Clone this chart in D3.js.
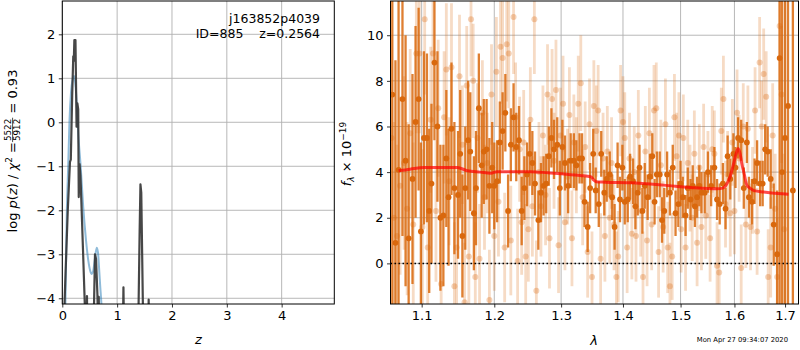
<!DOCTYPE html>
<html><head><meta charset="utf-8">
<script src="https://cdn.jsdelivr.net/npm/d3@7"></script>
<style>body{margin:0;background:#fff}svg{display:block}text{font-family:"DejaVu Sans",sans-serif}</style>
</head><body><svg id="c" width="800" height="350"></svg>
<script>
// ---------- data: left panel (redshift PDF) ----------
const blackZ = [0.00,0.03,0.06,0.10,0.14,0.155,0.18,0.20,0.21,0.22,0.24,0.25,0.26,0.275,0.29,0.30,0.315,0.33,0.345,0.38,0.42,0.435,0.45,0.465,0.55,0.596,0.615,0.64,0.65,0.665,0.68,1.09,1.115,1.14,1.37,1.41,1.425,1.44,1.47,1.48,1.56,1.575,1.59,4.96];
const blackLogp = [-8,-4.5,-3.4,-2.0,-0.9,-0.85,0.6,1.5,1.4,1.87,1.87,0.9,-0.1,0.43,0.3,-1.7,-0.95,-1.2,-1.7,-3.0,-4.5,-6,-3.95,-6,-6,-3.0,-3.1,-3.9,-4.5,-3.97,-6,-6,-3.75,-6,-6,-2.5,-1.41,-1.6,-4.2,-6,-6,-4.03,-6,-6];
const blueZ = [0.03,0.06,0.08,0.11,0.13,0.16,0.19,0.215,0.24,0.26,0.29,0.335,0.38,0.43,0.475,0.51,0.535,0.56,0.59,0.627,0.65,0.67,0.69,0.72,0.76];
const blueLogp = [-6,-3.9,-2.2,-0.9,0.0,0.7,0.98,1.05,0.85,0.5,-0.25,-1.0,-1.9,-2.65,-3.15,-3.38,-3.45,-3.4,-3.15,-2.85,-2.95,-3.3,-3.7,-4.3,-6];
const leftXTicks = [0,1,2,3,4];
const leftYTicks = [-4,-3,-2,-1,0,1,2];
const objName = "j163852p4039";
const objInfo = "ID=885    z=0.2564";
const chi2Num = "5522", chi2Den = "5912", chi2Val = "0.93";

// ---------- data: right panel (spectrum) rows [wave, flux, err] ----------
const darkRows = [
[1.062,7.4,12],[1.066,0.9,8],[1.070,4.1,10],[1.075,7.2,6],[1.079,4.5,5.5],[1.083,1.1,5],[1.088,3.7,4.6],[1.092,6.2,4.2],
[1.096,7.2,4.0],[1.099,1.4,3.9],[1.103,5.5,3.8],[1.107,5.5,3.7],[1.110,2.3,3.6],[1.113,3.5,3.5],[1.117,8.8,3.4],[1.121,6.0,3.3],
[1.125,2.0,3.2],[1.129,2.1,3.1],[1.133,4.6,3.0],[1.136,2.9,3.0],[1.140,5.9,2.9],[1.144,3.3,2.9],[1.149,3.0,2.8],[1.152,4.8,2.8],
[1.155,1.2,2.7],[1.159,3.3,2.7],[1.163,5.4,2.6],[1.166,4.9,2.6],[1.171,2.2,2.5],[1.174,3.3,2.5],[1.178,6.8,2.4],[1.182,4.3,2.3],
[1.185,4.9,2.3],[1.189,5.0,2.2],[1.193,3.4,2.1],[1.197,4.2,2.0],[1.200,3.4,1.9],[1.204,3.6,1.8],[1.208,5.3,1.8],[1.212,5.8,1.7],
[1.216,6.6,1.7],[1.220,2.3,1.6],[1.224,5.2,1.6],[1.228,6.4,1.5],[1.232,5.1,1.5],[1.236,5.4,1.5],[1.240,2.3,1.5],[1.244,3.3,1.4],
[1.248,3.9,1.4],[1.252,4.8,1.4],[1.256,4.4,1.4],[1.260,3.5,1.4],[1.265,1.9,1.3],[1.269,3.1,1.3],[1.273,3.4,1.3],[1.277,3.5,1.3],
[1.281,4.7,1.3],[1.285,5.5,1.3],[1.289,5.0,1.3],[1.294,5.2,1.2],[1.298,3.3,1.2],[1.302,5.1,1.2],[1.306,4.4,1.2],[1.311,3.4,1.2],
[1.315,4.5,1.2],[1.320,4.5,1.2],[1.324,4.3,1.1],[1.329,4.6,1.1],[1.333,4.6,1.1],[1.337,2.7,1.1],[1.342,1.6,1.1],[1.346,3.3,1.1],
[1.351,4.8,1.1],[1.355,3.2,1.0],[1.360,2.6,1.0],[1.364,4.8,1.0],[1.369,3.1,1.0],[1.373,3.7,1.0],[1.378,3.9,1.0],[1.382,2.9,1.0],
[1.386,1.6,1.0],[1.391,4.3,1.0],[1.395,2.8,1.0],[1.399,4.2,1.0],[1.403,2.7,1.0],[1.408,2.8,1.0],[1.412,3.8,1.0],[1.417,3.6,1.0],
[1.421,2.5,1.0],[1.425,3.1,1.0],[1.428,4.2,1.0],[1.433,2.3,1.0],[1.437,3.4,1.0],[1.442,2.9,1.0],[1.446,3.8,1.0],[1.450,4.7,1.0],
[1.454,2.7,1.0],[1.458,3.9,1.0],[1.463,3.9,1.0],[1.467,1.9,1.0],[1.471,2.3,1.0],[1.476,3.9,1.0],[1.481,3.1,1.0],[1.486,4.2,1.0],
[1.491,2.2,1.0],[1.496,2.6,1.0],[1.500,3.5,1.0],[1.504,2.9,0.9],[1.509,2.1,0.9],[1.513,3.3,0.9],[1.518,2.8,0.9],[1.522,3.4,0.9],
[1.526,2.5,0.9],[1.530,2.9,0.9],[1.534,3.4,0.9],[1.538,3.1,0.9],[1.544,3.1,0.9],[1.550,4.0,0.9],[1.556,3.4,0.9],[1.562,4.2,0.9],
[1.567,2.8,0.9],[1.572,2.6,0.9],[1.578,3.5,0.9],[1.583,2.4,0.9],[1.587,4.7,0.9],[1.592,3.7,0.9],[1.598,4.8,0.9],[1.602,4.2,0.9],
[1.607,5.5,0.9],[1.613,5.4,0.9],[1.618,3.3,0.9],[1.624,5.3,0.9],[1.628,2.9,0.9],[1.634,2.7,1.0],[1.639,3.6,1.0],[1.644,4.4,1.0],
[1.650,3.5,1.0],[1.655,3.5,1.0],[1.660,5.0,1.1],[1.665,4.9,1.1],[1.671,3.7,1.3],[1.677,1.7,1.8],[1.684,0.4,2.8],[1.689,9.0,12],
[1.694,4.0,12],[1.700,5.5,12],[1.706,6.9,12],[1.716,3.2,12]
];
const lightRows = [
[1.061,5.5,4.5],[1.064,2.0,4.2],[1.068,1.2,4.0],[1.072,3.4,3.9],[1.077,4.4,3.8],[1.081,2.4,3.8],[1.085,5.7,3.7],[1.089,1.7,3.6],
[1.093,9.2,3.5],[1.097,9.2,3.5],[1.101,1.6,3.4],[1.104,10.7,3.3],[1.108,0.7,3.3],[1.112,6.3,3.2],[1.115,9.2,3.2],[1.119,2.3,3.1],
[1.122,6.8,3.0],[1.126,-0.9,3.0],[1.130,6.4,2.9],[1.133,8.5,2.9],[1.137,3.6,2.8],[1.140,8.6,2.8],[1.144,-1.0,2.8],[1.147,0.7,2.7],
[1.151,8.2,2.7],[1.155,5.2,2.6],[1.158,-1.7,2.6],[1.161,7.8,2.6],[1.164,0.3,2.5],[1.167,10.7,2.5],[1.170,8.0,2.5],[1.173,-0.6,2.4],
[1.176,5.5,2.4],[1.179,0.2,2.4],[1.183,6.6,2.3],[1.186,2.9,2.3],[1.190,4.4,2.2],[1.193,-1.6,2.2],[1.196,7.4,2.2],
[1.200,1.2,2.4],[1.203,8.4,2.4],[1.206,2.7,2.4],[1.209,9.5,2.5],[1.212,9.0,2.5],[1.215,0.7,2.4],[1.218,9.6,2.5],[1.221,9.2,2.4],
[1.224,1.0,2.4],[1.228,10.8,2.5],[1.231,6.4,2.4],[1.234,0.1,2.3],[1.237,5.0,2.3],[1.240,1.8,2.3],[1.243,5.3,2.3],[1.246,0.3,2.3],
[1.250,1.5,2.3],[1.253,6.3,2.3],[1.256,2.5,2.2],[1.259,10.7,2.4],[1.262,-1.2,2.2],[1.266,4.0,2.2],[1.269,2.5,2.2],[1.272,5.6,2.2],
[1.276,3.0,2.2],[1.279,7.4,2.2],[1.282,1.1,2.2],[1.286,7.2,2.2],[1.289,4.5,2.1],[1.292,7.6,2.2],[1.296,0.8,2.1],[1.299,5.6,2.1],
[1.303,7.0,2.1],[1.306,1.8,2.1],[1.310,3.8,2.1],[1.313,6.5,2.1],[1.317,1.1,2.1],[1.320,5.3,2.1],[1.324,4.3,2.1],[1.327,7.0,2.1],
[1.331,7.9,2.1],[1.334,2.9,2.1],[1.338,5.1,2.0],[1.342,0.5,2.0],[1.345,6.1,2.0],[1.349,-0.6,2.0],
[1.352,6.9,2.0],[1.356,5.8,2.0],[1.359,6.7,2.0],[1.363,0.2,2.0],[1.367,4.6,2.0],[1.370,1.2,2.0],[1.374,4.9,2.0],[1.378,2.0,2.0],
[1.381,4.4,2.0],[1.385,1.7,2.0],[1.389,-0.6,2.0],[1.392,0.3,2.0],[1.396,6.7,2.0],[1.400,6.2,2.0],[1.403,5.5,2.0],[1.407,0.7,2.0],
[1.411,4.6,2.0],[1.415,1.3,2.0],[1.419,4.0,2.0],[1.422,1.2,2.0],[1.426,5.6,2.0],[1.430,2.3,2.0],[1.434,-0.6,2.0],[1.438,4.9,2.0],
[1.441,1.0,2.0],[1.445,5.7,2.0],[1.449,1.7,2.0],[1.453,6.7,2.0],[1.457,6.8,2.0],[1.461,0.5,2.0],[1.465,4.3,2.0],[1.469,1.6,2.0],
[1.473,6.1,2.0],[1.477,0.7,2.0],[1.481,-1.0,1.9],[1.485,0.3,1.9],[1.489,6.4,1.9],[1.493,4.7,1.9],[1.497,5.6,1.9],[1.501,1.5,1.9],
[1.505,5.5,1.9],[1.509,0.7,1.9],[1.513,4.4,1.9],[1.517,3.3,1.9],[1.521,2.0,1.9],[1.525,4.8,1.9],[1.530,0.9,1.9],
[1.534,4.2,1.9],[1.538,1.6,1.9],[1.542,5.1,1.9],[1.546,2.1,1.9],[1.550,3.9,1.9],[1.554,1.1,1.9],[1.558,5.0,1.9],[1.562,4.8,1.9],
[1.567,-0.1,1.9],[1.571,-0.4,1.9],[1.575,5.8,1.9],[1.579,7.2,1.9],[1.583,2.6,1.9],[1.587,3.9,1.9],[1.592,2.2,1.9],[1.596,5.3,1.9],
[1.600,2.3,1.9],[1.605,6.6,1.9],[1.609,4.6,1.9],[1.613,-0.2,1.9],[1.617,6.0,1.9],[1.622,1.7,1.9],[1.626,5.9,1.9],[1.631,1.6,1.9],
[1.635,3.2,1.9],[1.640,6.7,1.9],[1.644,1.4,1.9],[1.649,8.8,2.0],[1.653,6.0,2.0],[1.657,8.3,2.0],[1.662,7.3,2.0],[1.666,-0.6,2.1],
[1.671,0.7,2.2],[1.675,5.6,2.3],[1.680,2.4,2.4],[1.684,-0.6,2.6],[1.689,10.4,2.8],[1.693,7.4,3.0],[1.698,1.5,3.3]
];
const modelWave = [1.070,1.085,1.103,1.130,1.148,1.162,1.180,1.195,1.204,1.230,1.253,1.280,1.304,1.330,1.347,1.352,1.356,1.370,1.413,1.470,1.518,1.567,1.578,1.584,1.591,1.597,1.602,1.607,1.611,1.614,1.619,1.624,1.630,1.638,1.657,1.685,1.707];
const modelFlux = [4.06,4.13,4.2,4.2,4.2,4.06,4.0,3.95,4.02,4.02,4.02,3.97,3.92,3.85,3.8,3.65,3.58,3.56,3.53,3.43,3.33,3.27,3.3,3.43,3.75,4.24,4.7,5.04,4.8,4.4,3.9,3.43,3.3,3.19,3.13,3.06,3.03];
const rightXTicks = [1.1,1.2,1.3,1.4,1.5,1.6,1.7];
const rightYTicks = [0,2,4,6,8,10];
const timestamp = "Mon Apr 27 09:34:07 2020";

// ---------- drawing ----------
const svg = d3.select("#c");
const FS = 13, GRID = "#b0b0b0";
const ORANGE = "#d9680d";

function panel(x0, x1, y0, y1, xs, ys, xt, yt, xfmt, id) {
  const g = svg.append("g");
  g.selectAll(null).data(xt).join("line")
    .attr("x1", d => xs(d)).attr("x2", d => xs(d)).attr("y1", y0).attr("y2", y1)
    .attr("stroke", GRID).attr("stroke-width", 0.9);
  g.selectAll(null).data(yt).join("line")
    .attr("x1", x0).attr("x2", x1).attr("y1", d => ys(d)).attr("y2", d => ys(d))
    .attr("stroke", GRID).attr("stroke-width", 0.9);
  svg.append("clipPath").attr("id", id).append("rect")
    .attr("x", x0).attr("y", y0).attr("width", x1 - x0).attr("height", y1 - y0);
  const data = svg.append("g").attr("clip-path", `url(#${id})`);
  const ax = svg.append("g").attr("transform", `translate(0,${y1})`)
    .call(d3.axisBottom(xs).tickValues(xt).tickFormat(xfmt).tickSize(3.5).tickPadding(3.5));
  const ay = svg.append("g").attr("transform", `translate(${x0},0)`)
    .call(d3.axisLeft(ys).tickValues(yt).tickFormat(d3.format("d")).tickSize(3.5).tickPadding(3.5));
  [ax, ay].forEach(a => {
    a.select(".domain").remove();
    a.selectAll("text").attr("font-size", FS).attr("fill", "#000").attr("font-family", "DejaVu Sans");
    a.selectAll("line").attr("stroke", "#000").attr("stroke-width", 0.8);
  });
  svg.append("rect").attr("x", x0).attr("y", y0).attr("width", x1 - x0).attr("height", y1 - y0)
    .attr("fill", "none").attr("stroke", "#000").attr("stroke-width", 1);
  return data;
}

// Left panel
const Lx = d3.scaleLinear().domain([0, 4.96]).range([62.3, 334.3]);
const Ly = d3.scaleLinear().domain([-4.13, 2.757]).range([304, 1]);
const Ld = panel(62.3, 334.3, 1, 304, Lx, Ly, leftXTicks, leftYTicks, d3.format("d"), "clipL");
Ld.append("path").datum(d3.zip(blueZ, blueLogp))
  .attr("d", d3.line().x(d => Lx(d[0])).y(d => Ly(d[1])).curve(d3.curveMonotoneX))
  .attr("fill", "none").attr("stroke", "#1f77b4").attr("stroke-opacity", 0.5).attr("stroke-width", 2);
Ld.append("path").datum(d3.zip(blackZ, blackLogp))
  .attr("d", d3.line().x(d => Lx(d[0])).y(d => Ly(d[1])))
  .attr("fill", "none").attr("stroke", "#333").attr("stroke-opacity", 0.9).attr("stroke-width", 2.2)
  .attr("stroke-linejoin", "round");

svg.append("text").attr("x", 320).attr("y", 23).attr("text-anchor", "end")
  .attr("font-size", 12.5).text(objName);
svg.append("text").attr("x", 320).attr("y", 37.5).attr("text-anchor", "end")
  .attr("font-size", 12.5).style("white-space", "pre").text(objInfo);

svg.append("text").attr("x", Lx(2.48)).attr("y", 344).attr("text-anchor", "middle")
  .attr("font-size", FS).attr("font-style", "italic").text("z");

// Left y label with fraction
(function () {
  const g = svg.append("g").attr("transform", "translate(16.5,0) rotate(-90)");
  const t1 = g.append("text").attr("font-size", FS).attr("y", 0);
  t1.append("tspan").text("log ");
  t1.append("tspan").attr("font-style", "italic").text("p");
  t1.append("tspan").text("(");
  t1.append("tspan").attr("font-style", "italic").text("z");
  t1.append("tspan").text(") / ");
  t1.append("tspan").attr("font-style", "italic").text("χ");
  t1.append("tspan").attr("font-size", 9).attr("dy", -5).text("2");
  t1.append("tspan").attr("dy", 5).text(" = ");
  const w1 = t1.node().getComputedTextLength();
  const num = g.append("text").attr("font-size", 8.8).attr("y", -5.2).attr("text-anchor", "middle").text(chi2Num);
  const den = g.append("text").attr("font-size", 8.8).attr("y", 3.4).attr("text-anchor", "middle").text(chi2Den);
  const wf = Math.max(num.node().getComputedTextLength(), den.node().getComputedTextLength()) + 2;
  const bar = g.append("line").attr("y1", -3.9).attr("y2", -3.9).attr("stroke", "#000").attr("stroke-width", 0.7);
  const t3 = g.append("text").attr("font-size", FS).attr("y", 0).style("white-space", "pre").text(" = " + chi2Val);
  const w3 = t3.node().getComputedTextLength();
  const total = w1 + wf + w3;
  const cy = 151;
  const start = -cy - total / 2;
  t1.attr("x", start);
  num.attr("x", start + w1 + wf / 2);
  den.attr("x", start + w1 + wf / 2);
  bar.attr("x1", start + w1).attr("x2", start + w1 + wf);
  t3.attr("x", start + w1 + wf);
})();

// Right panel
const Rx = d3.scaleLog().domain([1.0597, 1.7276]).range([390.5, 798.5]);
const Ry = d3.scaleLinear().domain([-1.78, 11.5]).range([304, 1]);
const Rd = panel(390.5, 798.5, 1, 304, Rx, Ry, rightXTicks, rightYTicks, d3.format(".1f"), "clipR");

Rd.append("g").selectAll("line").data(lightRows).join("line")
  .attr("x1", d => Rx(d[0])).attr("x2", d => Rx(d[0]))
  .attr("y1", d => Ry(d[1] - d[2])).attr("y2", d => Ry(d[1] + d[2]))
  .attr("stroke", ORANGE).attr("stroke-opacity", 0.24).attr("stroke-width", 2.8);
Rd.append("g").selectAll("circle").data(lightRows).join("circle")
  .attr("cx", d => Rx(d[0])).attr("cy", d => Ry(d[1])).attr("r", 3)
  .attr("fill", ORANGE).attr("fill-opacity", 0.3);
Rd.append("g").selectAll("line").data(darkRows).join("line")
  .attr("x1", d => Rx(d[0])).attr("x2", d => Rx(d[0]))
  .attr("y1", d => Ry(d[1] - d[2])).attr("y2", d => Ry(d[1] + d[2]))
  .attr("stroke", ORANGE).attr("stroke-opacity", 0.85).attr("stroke-width", 2.3);
Rd.append("g").selectAll("circle").data(darkRows).join("circle")
  .attr("cx", d => Rx(d[0])).attr("cy", d => Ry(d[1])).attr("r", 2.9)
  .attr("fill", ORANGE);
Rd.append("line").attr("x1", 390.5).attr("x2", 798.5).attr("y1", Ry(0)).attr("y2", Ry(0))
  .attr("stroke", "#000").attr("stroke-width", 1.5).attr("stroke-dasharray", "1.5,2.5");
Rd.append("path").datum(d3.zip(modelWave, modelFlux))
  .attr("d", d3.line().x(d => Rx(d[0])).y(d => Ry(d[1])).curve(d3.curveMonotoneX))
  .attr("fill", "none").attr("stroke", "#ff0000").attr("stroke-opacity", 0.7).attr("stroke-width", 3);

svg.append("text").attr("x", 594).attr("y", 345).attr("text-anchor", "middle")
  .attr("font-size", FS).attr("font-style", "italic").text("λ");

(function () {
  const g = svg.append("g").attr("transform", "translate(351,154) rotate(-90)");
  const t = g.append("text").attr("font-size", FS).attr("text-anchor", "middle");
  t.append("tspan").attr("font-style", "italic").text("f");
  t.append("tspan").attr("font-style", "italic").attr("font-size", 9).attr("dy", 3).text("λ");
  t.append("tspan").attr("dy", -3).text(" × 10");
  t.append("tspan").attr("font-size", 9).attr("dy", -5.5).text("−19");
})();

svg.append("text").attr("x", 788).attr("y", 342).attr("text-anchor", "end")
  .attr("font-size", 6.8).text(timestamp);
</script></body></html>
